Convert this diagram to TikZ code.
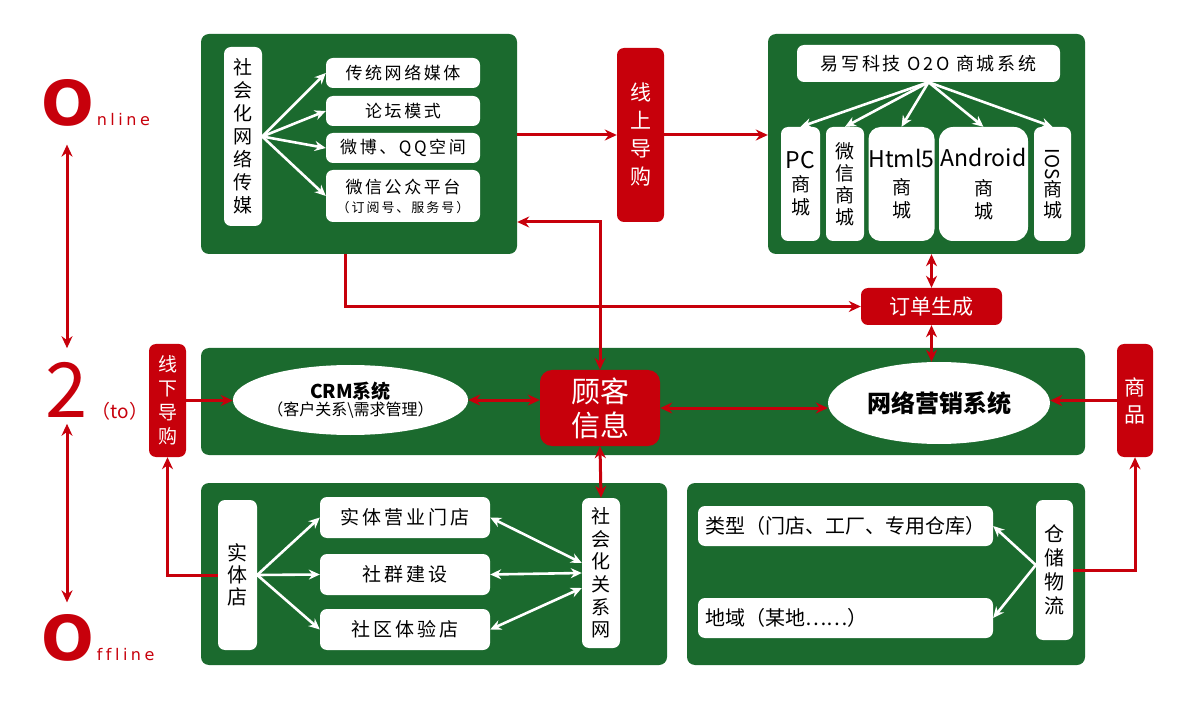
\documentclass[tikz,border=0pt]{standalone}
\usepackage{fontspec}
\setmainfont{Noto Sans CJK SC}
\newfontfamily\widefont{Noto Sans CJK SC}[LetterSpace=15]
\newfontfamily\latinfont{DejaVu Sans}
\newfontfamily\spacedfont{DejaVu Sans}[LetterSpace=22, Ligatures={NoCommon}]
\definecolor{boardgreen}{RGB}{27, 106, 46}
\definecolor{guidered}{RGB}{199, 0, 11}
\usetikzlibrary{shapes.geometric, arrows.meta, positioning, calc}

\begin{document}
\begin{tikzpicture}[x=1pt, y=-1pt,
  board/.style={fill=boardgreen, rounded corners=8pt, inner sep=0pt},
  card/.style={fill=white, rounded corners=7pt, inner sep=0pt, align=center, font=\widefont\fontsize{17}{22}\selectfont},
  vcard/.style={fill=white, rounded corners=7pt, inner sep=0pt, align=center, font=\fontsize{19}{23}\selectfont},
  tag/.style={fill=guidered, rounded corners=7pt, inner sep=0pt, align=center, text=white, font=\fontsize{20}{25}\selectfont},
  oval/.style={ellipse, fill=white, inner sep=0pt, align=center},
  link/.style={guidered, line width=3pt, -{Stealth[length=12pt, width=11pt]}},
  twoway/.style={link, {Stealth[length=12pt, width=11pt]}-{Stealth[length=12pt, width=11pt]}},
  feed/.style={white, line width=2.6pt, -{Stealth[length=11pt, width=10pt]}},
  feedboth/.style={feed, {Stealth[length=11pt, width=10pt]}-{Stealth[length=11pt, width=10pt]}},
  bigmark/.style={text=guidered, inner sep=0pt}]
  \useasboundingbox (0,0) rectangle (1200,711);

  \node[board, minimum width=316pt, minimum height=220pt] (media) at (359,144) {};
  \node[board, minimum width=317pt, minimum height=220pt] (mall) at (926.5,144) {};
  \node[board, minimum width=884pt, minimum height=107pt] (core) at (643,401.5) {};
  \node[board, minimum width=466pt, minimum height=182pt] (shops) at (434,574) {};
  \node[board, minimum width=398pt, minimum height=182pt] (depot) at (886,574) {};

  \node[vcard, minimum width=38pt, minimum height=179pt] (sns) at (243,136.5) {社\\会\\化\\网\\络\\传\\媒};
  \node[card, minimum width=154pt, minimum height=30pt] (trad) at (403,73) {传统网络媒体};
  \node[card, minimum width=154pt, minimum height=30pt] (forum) at (403,111) {论坛模式};
  \node[card, minimum width=154pt, minimum height=30pt] (weibo) at (403,148) {微博、QQ空间};
  \node[card, minimum width=154pt, minimum height=52pt] (wechat) at (403,196) {微信公众平台\\[-3pt]{\fontsize{13}{16}\selectfont （订阅号、服务号）}};
  \foreach \item in {trad, forum, weibo, wechat}
    \draw[feed] (sns.east) -- (\item.west);

  \node[tag, minimum width=47pt, minimum height=174pt, font=\fontsize{21}{28}\selectfont] (online) at (640.5,135) {线\\上\\导\\购};

  \node[card, minimum width=263pt, minimum height=37pt, font=\widefont\fontsize{18}{22}\selectfont] (o2o) at (928.5,63.5) {易写科技 O2O 商城系统};
  \node[vcard, minimum width=39pt, minimum height=114pt] (pc) at (800.5,184) {{\fontsize{23}{26}\selectfont PC}\\商\\城};
  \node[vcard, minimum width=38pt, minimum height=114pt, font=\fontsize{19}{22}\selectfont] (wx) at (845,184) {微\\信\\商\\城};
  \node[vcard, minimum width=65pt, minimum height=114pt, rounded corners=12pt] (h5) at (901.5,184) {{\fontsize{23}{26}\selectfont Html5}\\[4pt]商\\城};
  \node[vcard, minimum width=89pt, minimum height=114pt, rounded corners=14pt] (andr) at (983.5,184) {{\fontsize{23}{26}\selectfont Android}\\[6pt]商\\城};
  \node[vcard, minimum width=37pt, minimum height=114pt, font=\fontsize{19}{21}\selectfont] (ios) at (1052.5,184) {\rotatebox{-90}{IOS}\\商\\城};
  \foreach \item in {pc, wx, h5, andr, ios}
    \draw[feed] (o2o.south) -- (\item.north);

  \node[tag, minimum width=141pt, minimum height=37pt, font=\fontsize{21}{25}\selectfont] (order) at (931.5,306.5) {订单生成};

  \node[oval, minimum width=225pt, minimum height=70pt] (crm) at (350.5,400) {{\bfseries\fontsize{19}{23}\selectfont CRM系统}\\{\fontsize{16}{20}\selectfont （客户关系\textbackslash 需求管理）}};
  \node[tag, minimum width=120pt, minimum height=76pt, rounded corners=12pt, font=\fontsize{29}{34}\selectfont] (cust) at (600,408) {顾客\\信息};
  \node[oval, minimum width=222pt, minimum height=82pt, font=\bfseries\fontsize{24}{28}\selectfont] (mkt) at (939,403) {网络营销系统};
  \node[tag, minimum width=37pt, minimum height=113pt, font=\fontsize{19}{24}\selectfont] (offline) at (167.5,400.5) {线\\下\\导\\购};
  \node[tag, minimum width=36pt, minimum height=113pt, font=\fontsize{21}{27}\selectfont] (goods) at (1135,400.5) {商\\品};

  \node[vcard, minimum width=39pt, minimum height=150pt, font=\fontsize{20}{22}\selectfont] (shop) at (237.5,575) {实\\体\\店};
  \node[card, minimum width=170pt, minimum height=41pt, font=\widefont\fontsize{19}{22}\selectfont] (front) at (405,517.5) {实体营业门店};
  \node[card, minimum width=170pt, minimum height=41pt, font=\widefont\fontsize{19}{22}\selectfont] (group) at (405,574.5) {社群建设};
  \node[card, minimum width=170pt, minimum height=41pt, font=\widefont\fontsize{19}{22}\selectfont] (trial) at (405,629.5) {社区体验店};
  \node[vcard, minimum width=38pt, minimum height=150pt, font=\fontsize{19}{22.6}\selectfont] (rel) at (601,573) {社\\会\\化\\关\\系\\网};
  \foreach \item in {front, group, trial}
    \draw[feed] (shop.east) -- (\item.west);
  \draw[feedboth] (front.east) -- ([yshift=10pt]rel.west);
  \draw[feedboth] (group.east) -- (rel.west);
  \draw[feedboth] (trial.east) -- ([yshift=-15pt]rel.west);

  \node[card, text width=281pt, inner xsep=7pt, minimum height=40pt, align=left, font=\fontsize{20}{24}\selectfont] (kind) at (845.5,526) {类型（门店、工厂、专用仓库）};
  \node[card, text width=281pt, inner xsep=7pt, minimum height=40pt, align=left, font=\fontsize{20}{24}\selectfont] (area) at (845.5,618) {地域（某地……）};
  \node[vcard, minimum width=37pt, minimum height=140pt, font=\fontsize{20}{24}\selectfont] (wh) at (1054.5,570) {仓\\储\\物\\流};
  \draw[feed] ([yshift=5pt]wh.west) -- (kind.east);
  \draw[feed] ([yshift=5pt]wh.west) -- (area.east);

  \draw[link] (media.east |- online.west) -- (online.west);
  \draw[link] (online.east) -- (online.east -| mall.west);
  \draw[link] ([xshift=-14pt]media.south) |- (order.west);
  \draw[twoway] (cust.north) |- ([yshift=-78pt]media.east);
  \draw[twoway] (order.north |- mall.south) -- (order.north);
  \draw[twoway] (order.south) -- (order.south |- mkt.north);
  \draw[link] (offline.east) -- (offline.east -| crm.west);
  \draw[twoway] (crm.east) -- (crm.east -| cust.west);
  \draw[twoway] (cust.east) -- (cust.east -| mkt.west);
  \draw[link] (goods.west) -- (goods.west -| mkt.east);
  \draw[twoway] (cust.south) -- (rel.north);
  \draw[link] (shop.west) -| (offline.south);
  \draw[link] (wh.east) -| (goods.south);

  \node[bigmark, font=\latinfont\bfseries\fontsize{62}{62}\selectfont] (on) at (68,103) {O};
  \node[bigmark, anchor=base west, font=\spacedfont\fontsize{16}{16}\selectfont] (onword) at ([xshift=2pt]on.base east) {nline};
  \node[bigmark, font=\fontsize{76}{76}\selectfont] (two) at (67,390) {2};
  \node[bigmark, font=\fontsize{19}{19}\selectfont] (to) at (120,411) {（to）};
  \node[bigmark, font=\latinfont\bfseries\fontsize{62}{62}\selectfont] (off) at (68,638) {O};
  \node[bigmark, anchor=base west, font=\spacedfont\fontsize{16}{16}\selectfont] (offword) at ([xshift=2pt]off.base east) {ffline};
  \draw[twoway, shorten <=18pt, shorten >=14pt] (on.south -| two.north) -- (two.north);
  \draw[twoway, shorten <=6pt, shorten >=12pt] (two.south) -- (two.south |- off.north);
\end{tikzpicture}
\end{document}
